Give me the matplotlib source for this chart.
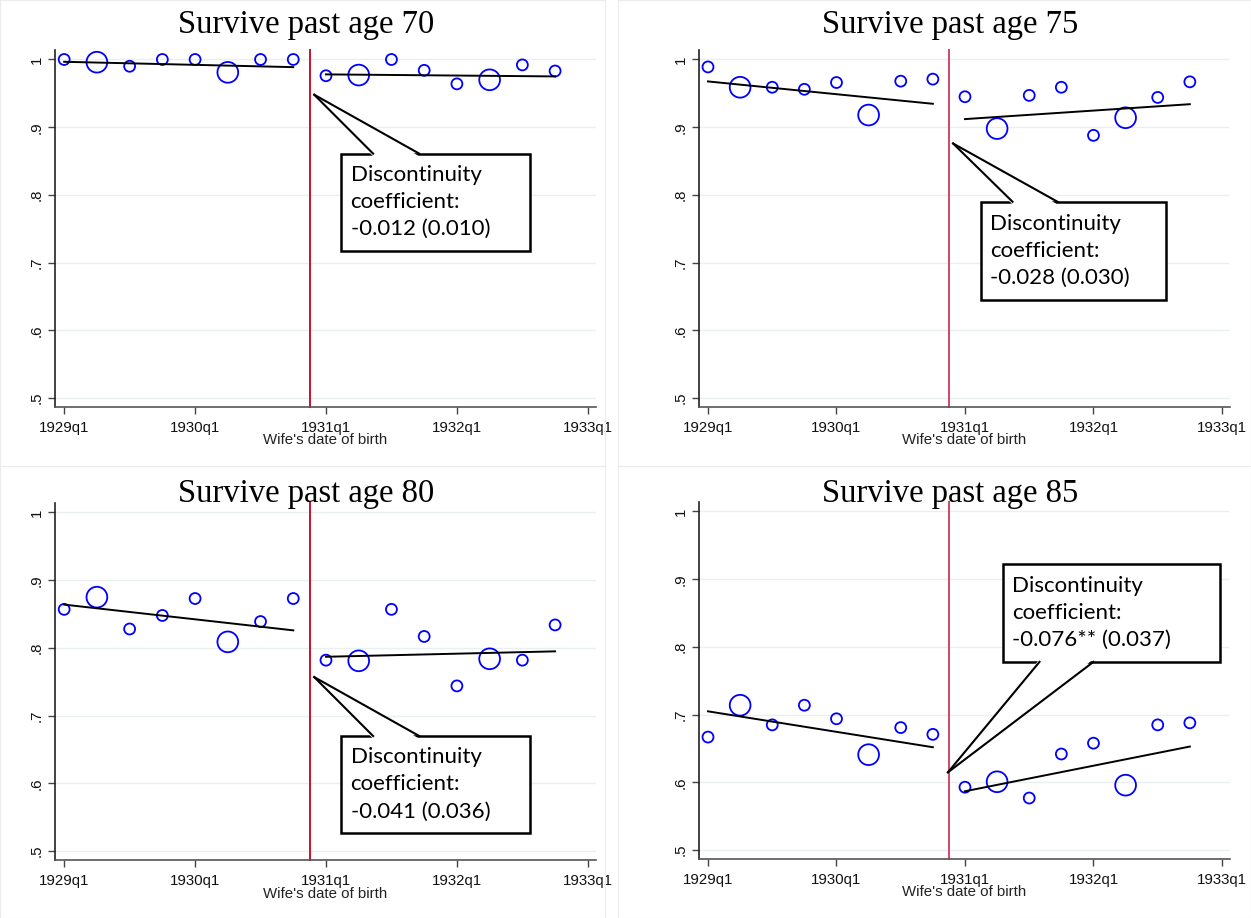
import matplotlib
matplotlib.use("Agg")
import matplotlib.pyplot as plt
from matplotlib.patches import Rectangle, Polygon
from matplotlib.lines import Line2D

# quarters since 1929q1
quarters = list(range(16))
obs_weight = [1, 3.6, 1, 1, 1, 3.6, 1, 1, 1, 3.6, 1, 1, 1, 3.6, 1, 1]

titles = ["Survive past age 70", "Survive past age 75",
          "Survive past age 80", "Survive past age 85"]

surv70 = [1.000, 0.996, 0.990, 1.000, 1.000, 0.981, 1.000, 1.000,
          0.976, 0.977, 1.000, 0.984, 0.964, 0.970, 0.992, 0.983]
surv75 = [0.989, 0.959, 0.959, 0.956, 0.966, 0.918, 0.968, 0.971,
          0.945, 0.898, 0.947, 0.959, 0.888, 0.914, 0.944, 0.967]
surv80 = [0.857, 0.875, 0.828, 0.848, 0.873, 0.809, 0.839, 0.873,
          0.782, 0.781, 0.857, 0.817, 0.744, 0.784, 0.782, 0.834]
surv85 = [0.667, 0.714, 0.685, 0.714, 0.694, 0.641, 0.681, 0.671,
          0.593, 0.601, 0.577, 0.642, 0.658, 0.596, 0.685, 0.688]

# fitted line values at (start, end) of each side
fit_left = [(0.9966, 0.9887), (0.9676, 0.9346), (0.864, 0.826), (0.705, 0.652)]
fit_right = [(0.978, 0.975), (0.912, 0.934), (0.787, 0.795), (0.587, 0.653)]

coef_text = ["-0.012 (0.010)", "-0.028 (0.030)", "-0.041 (0.036)", "-0.076** (0.037)"]

cutoff = 7.5
xtick_pos = [0, 4, 8, 12, 16]
xtick_lab = ["1929q1", "1930q1", "1931q1", "1932q1", "1933q1"]
ytick_pos = [0.5, 0.6, 0.7, 0.8, 0.9, 1.0]
ytick_lab = [".5", ".6", ".7", ".8", ".9", "1"]

red_cols = ["#c8102e", "#d44466", "#c8102e", "#d44466"]

# callout layout: box (x0, x1, y0, y1), base xs, base y, tip (x, y)
callouts = [
    ((8.47, 14.22, 0.718, 0.861), (9.44, 10.85), 0.861, (7.64, 0.948)),
    ((8.49, 14.25, 0.645, 0.790), (9.48, 10.88), 0.790, (7.63, 0.876)),
    ((8.47, 14.22, 0.527, 0.670), (9.44, 10.85), 0.670, (7.64, 0.757)),
    ((9.19, 15.94, 0.778, 0.922), (10.32, 12.00), 0.778, (7.47, 0.615)),
]

series = [surv70, surv75, surv80, surv85]

fig = plt.figure(figsize=(12.51, 9.18), dpi=100)
fig.patch.set_facecolor("white")

W, H = 1251, 918
axes_px = [(55, 50, 596, 407), (699, 50, 1230, 407),
           (55, 503, 596, 860), (699, 502, 1230, 859)]
title_pos = [(306, 25), (950, 25), (306, 494), (950, 494)]

# faint panel borders
for (x0, y0, x1, y1) in [(0, 0, 605, 466), (618, 0, 1251, 466), (0, 466, 605, 918), (618, 466, 1251, 918)]:
    fig.add_artist(Rectangle((x0 / W, 1 - y1 / H), (x1 - x0) / W, (y1 - y0) / H,
                             transform=fig.transFigure, fill=False,
                             edgecolor="#ececec", linewidth=0.8))

for i in range(4):
    x0, y0, x1, y1 = axes_px[i]
    ax = fig.add_axes([x0 / W, 1 - y1 / H, (x1 - x0) / W, (y1 - y0) / H])
    ax.set_xlim(-0.28, 16.25)
    ax.set_ylim(0.487, 1.014)
    for s in ["top", "right"]:
        ax.spines[s].set_visible(False)
    ax.spines["left"].set_color("#222222")
    ax.spines["bottom"].set_color("#555555")
    ax.spines["left"].set_linewidth(1.2)
    ax.spines["bottom"].set_linewidth(1.2)

    for yv in ytick_pos:
        ax.axhline(yv, color="#e9f0f1", linewidth=1.0, zorder=0)

    ax.set_xticks(xtick_pos)
    ax.set_xticklabels(xtick_lab, fontsize=10.8, family="Liberation Sans", color="#111111")
    ax.set_yticks(ytick_pos)
    ax.set_yticklabels(ytick_lab, fontsize=10.8, family="Liberation Sans", rotation=90,
                       va="center", color="#111111")
    ax.tick_params(axis="x", length=5, width=1, color="#444444", pad=5)
    ax.tick_params(axis="y", length=5, width=1, color="#444444", pad=3)
    ax.set_xlabel("Wife's date of birth", fontsize=10.8, family="Liberation Sans",
                  color="#222222", labelpad=-1)

    ys = series[i]
    sizes = [62 * w for w in obs_weight]
    ax.scatter(quarters, ys, s=sizes, facecolors="none", edgecolors="#0000ff",
               linewidths=1.3, zorder=3)
    ax.plot([0, 7], list(fit_left[i]), color="black", linewidth=1.4, zorder=4)
    ax.plot([8, 15], list(fit_right[i]), color="black", linewidth=1.4, zorder=4)
    ax.axvline(cutoff, color=red_cols[i], linewidth=1.4, zorder=2, clip_on=False)

    (bx0, bx1, by0, by1), (bp0, bp1), base_y, (tx, ty) = callouts[i]
    ax.add_patch(Rectangle((bx0, by0), bx1 - bx0, by1 - by0, facecolor="white",
                           edgecolor="black", linewidth=1.8, zorder=6))
    # pointer wedge
    inset = 0.004 if base_y == by1 else -0.004
    ax.add_patch(Polygon([(bp0, base_y - inset), (bp1, base_y - inset), (tx, ty)],
                         closed=True, facecolor="white", edgecolor="none", zorder=7))
    ax.add_line(Line2D([bp0, tx], [base_y, ty], color="black", linewidth=1.5, zorder=8))
    ax.add_line(Line2D([bp1, tx], [base_y, ty], color="black", linewidth=1.5, zorder=8))
    ax.text(bx0 + 0.28, (by0 + by1) / 2, "Discontinuity\ncoefficient:\n" + coef_text[i],
            family="Lato", fontsize=16, ha="left", va="center", linespacing=1.45,
            zorder=9)

    tpx, tpy = title_pos[i]
    fig.text(tpx / W, 1 - tpy / H, titles[i], family="Liberation Serif", fontsize=23.5,
             ha="center", va="center", color="black")

fig.savefig("out.png", dpi=100, facecolor="white")
